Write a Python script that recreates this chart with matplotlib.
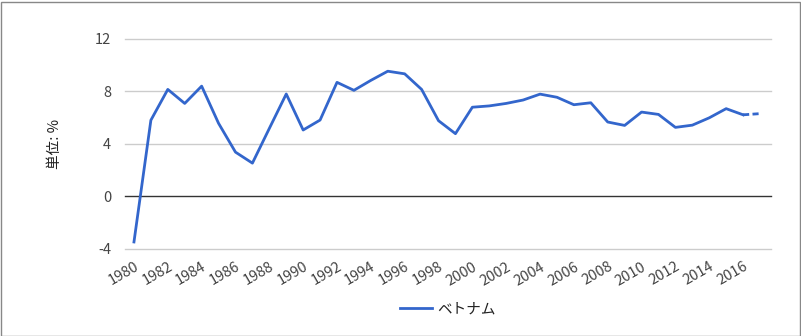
import matplotlib.pyplot as plt
from matplotlib.patches import Rectangle

plt.rcParams['font.family'] = ['Noto Sans CJK JP', 'DejaVu Sans']

years = list(range(1980, 2018))
growth = [-3.5, 5.8, 8.15, 7.08, 8.4, 5.56, 3.36, 2.52, 5.17, 7.8,
          5.05, 5.81, 8.69, 8.08, 8.84, 9.54, 9.34, 8.15, 5.76, 4.77,
          6.79, 6.89, 7.08, 7.34, 7.79, 7.55, 6.98, 7.13, 5.66, 5.4,
          6.42, 6.24, 5.25, 5.42, 5.98, 6.68, 6.21, 6.3]
n_actual = 37  # 1980-2016 actual, 2017 forecast
series_name = "ベトナム"
y_ticks = [-4, 0, 4, 8, 12]
x_ticks = list(range(1980, 2017, 2))

fig = plt.figure(figsize=(8.01, 3.36), dpi=100)
ax = fig.add_axes([125 / 801, 1 - 248.5 / 336, 646 / 801, 209.5 / 336])

blue = '#3366CC'
ax.plot(years[:n_actual], growth[:n_actual], color=blue, lw=2, label=series_name,
        solid_joinstyle='round')
ax.plot(years[n_actual - 1:], growth[n_actual - 1:], color=blue, lw=2,
        dashes=(2.2, 1.2))

ax.set_xlim(1979.47, 2017.65)
ax.set_ylim(-4, 12)
ax.set_yticks(y_ticks)
ax.set_yticklabels([str(v) for v in y_ticks])
ax.set_xticks(x_ticks)
ax.set_xticklabels([str(v) for v in x_ticks], rotation=30, ha='right',
                   rotation_mode='anchor')

for v in y_ticks:
    ax.axhline(v, color='#333333' if v == 0 else '#cccccc', lw=1, zorder=0,
               clip_on=False)

for s in ax.spines.values():
    s.set_visible(False)
ax.tick_params(axis='both', length=0, labelsize=10.5, colors='#444444')
ax.tick_params(axis='y', pad=10)
ax.tick_params(axis='x', pad=8)

ax.set_ylabel('単位: %', fontsize=10.5, color='#222222', labelpad=24)

fig.legend(loc='center', bbox_to_anchor=(448 / 801, 1 - 309 / 336), frameon=False,
           fontsize=10.5, handlelength=2.2, handletextpad=0.4, labelcolor='#222222')

fig.patches.append(Rectangle((0.5 / 801, 0.5 / 336), 799 / 801, 334 / 336,
                             transform=fig.transFigure, fill=False,
                             edgecolor='#888888', lw=1))

fig.savefig('out.png', dpi=100)
